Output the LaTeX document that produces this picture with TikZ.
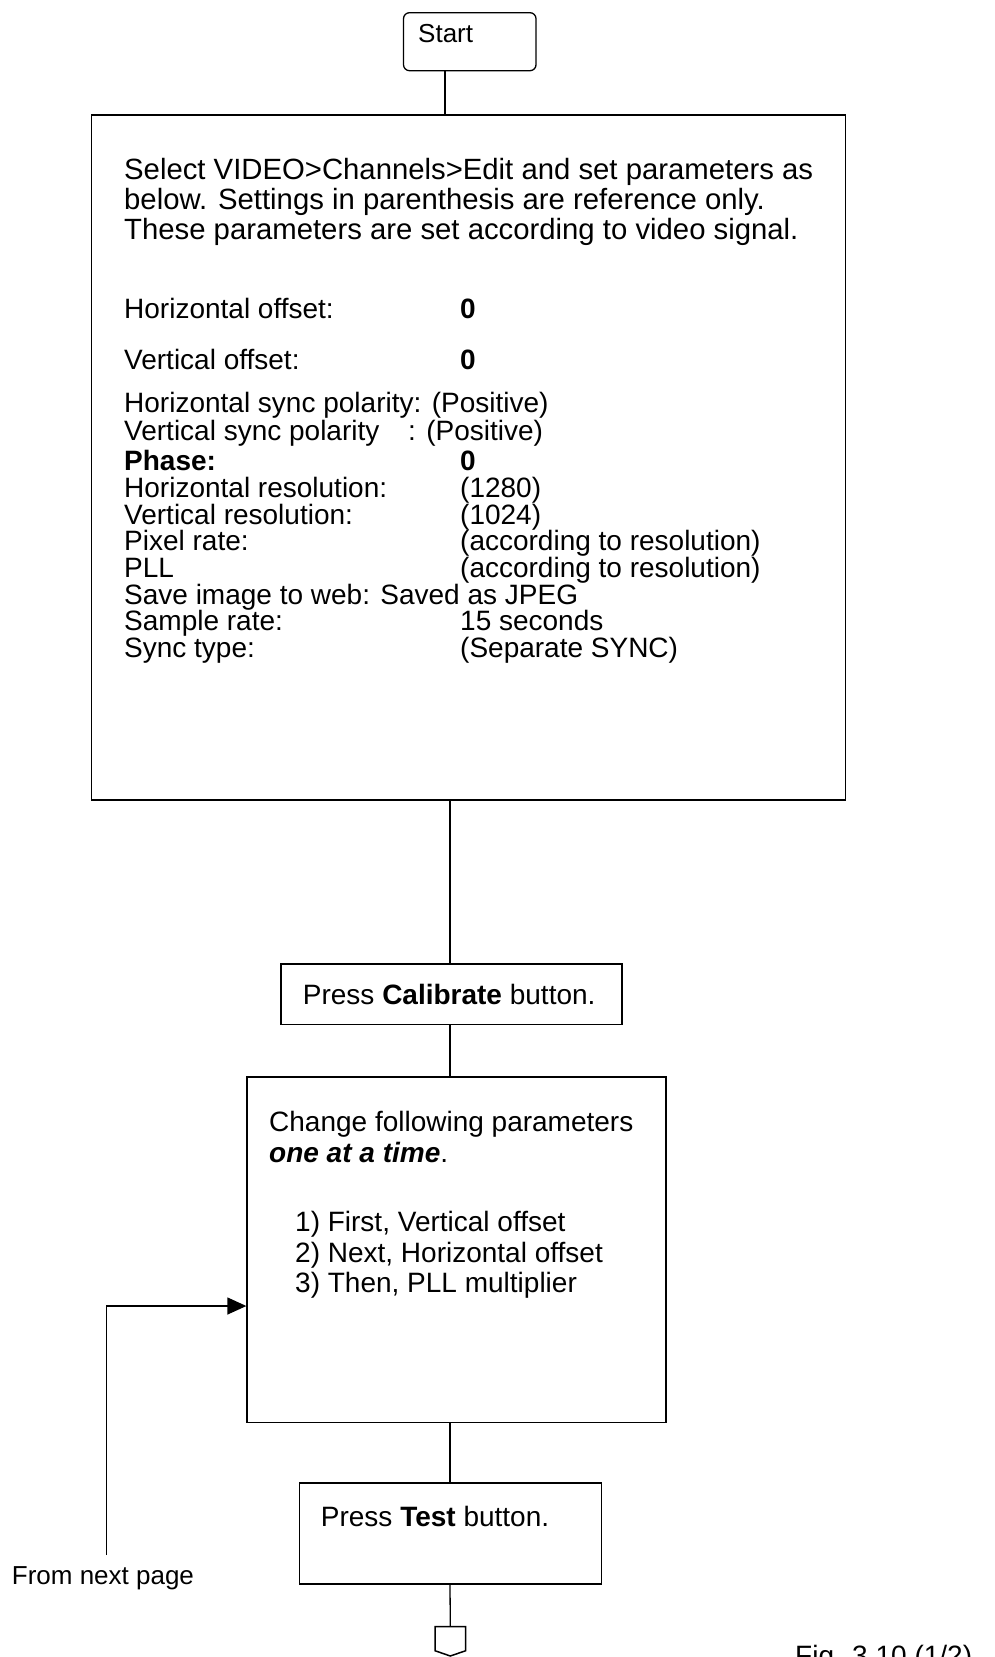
\documentclass[tikz,border=0pt]{standalone}
\usepackage{fontspec}
\setmainfont{Liberation Sans}
\usetikzlibrary{arrows.meta,calc}
\begin{document}
\begin{tikzpicture}[x=1pt,y=-1pt,
  box/.style={draw, line width=1.3pt, inner sep=0pt},
  txt/.style={anchor=base west, inner sep=0pt, font=\fontsize{28}{30}\selectfont},
  headtxt/.style={anchor=base west, inner sep=0pt, font=\fontsize{29.3}{31}\selectfont},
  smalltxt/.style={anchor=base west, inner sep=0pt, font=\fontsize{26}{28}\selectfont},
  conn/.style={line width=1.3pt}]
\useasboundingbox (0,0) rectangle (994,1657);

% Start
\node[box, rounded corners=6pt, minimum width=132.5pt, minimum height=58pt] (start) at (469.75,41.7) {};
\node[smalltxt] (starttxt) at (418,42) {Start};

% Settings box
\node[box, minimum width=754pt, minimum height=685pt] (setup) at (468.7,457.5) {};
\node[headtxt] (s1) at (124,179) {Select VIDEO>Channels>Edit and set parameters as};
\node[headtxt] (s2) at (124,209) {below. Settings in parenthesis are reference only.};
\node[headtxt] (s3) at (124,239) {These parameters are set according to video signal.};
\node[txt] (p1) at (124,318) {Horizontal offset:};
\node[txt] (v1) at (460,318) {\textbf{0}};
\node[txt] (p2) at (124,369) {Vertical offset:};
\node[txt] (v2) at (460,369) {\textbf{0}};
\node[txt] (p3) at (124,412) {Horizontal sync polarity: (Positive)};
\node[txt] (p4) at (124,440) {Vertical sync polarity};
\node[txt] (v4) at (408,440) {: (Positive)};
\node[txt] (p5) at (124,470) {\textbf{Phase:}};
\node[txt] (v5) at (460,470) {\textbf{0}};
\node[txt] (p6) at (124,497) {Horizontal resolution:};
\node[txt] (v6) at (460,497) {(1280)};
\node[txt] (p7) at (124,524) {Vertical resolution:};
\node[txt] (v7) at (460,524) {(1024)};
\node[txt] (p8) at (124,550.5) {Pixel rate:};
\node[txt] (v8) at (460,550.5) {(according to resolution)};
\node[txt] (p9) at (124,577) {PLL};
\node[txt] (v9) at (460,577) {(according to resolution)};
\node[txt] (p10) at (124,604) {Save image to web: Saved as JPEG};
\node[txt] (p11) at (124,630.5) {Sample rate:};
\node[txt] (v11) at (460,630.5) {15 seconds};
\node[txt] (p12) at (124,657) {Sync type:};
\node[txt] (v12) at (460,657) {(Separate SYNC)};

% Calibrate
\node[box, minimum width=341pt, minimum height=60.6pt] (calib) at (451.5,994.3) {};
\node[txt] (calibtxt) at (302.7,1004) {Press \textbf{Calibrate} button.};

% Change
\node[box, minimum width=419pt, minimum height=345.5pt] (change) at (456.5,1249.75) {};
\node[txt] (c1) at (269,1131) {Change following parameters};
\node[txt] (c2) at (269,1162) {\textbf{\textit{one at a time}}.};
\node[txt] (c3) at (295,1231) {1) First, Vertical offset};
\node[txt] (c4) at (295,1262) {2) Next, Horizontal offset};
\node[txt] (c5) at (295,1292) {3) Then, PLL multiplier};

% Test
\node[box, minimum width=302.4pt, minimum height=101pt] (test) at (450.5,1533.5) {};
\node[txt] (testtxt) at (320.7,1526) {Press \textbf{Test} button.};

% Off-page connector
\draw[line width=1.5pt] (435,1626.7) -- (465.7,1626.7) -- (465.7,1650.7) -- (450.3,1656) -- (435,1650.7) -- cycle;
\coordinate (offpage) at (450.3,1626.7);

% Connectors
\coordinate (lx1) at (445,0);
\coordinate (lx2) at (450,0);
\draw[conn] (start.south -| lx1) -- (setup.north -| lx1);
\draw[conn] (setup.south -| lx2) -- (calib.north -| lx2);
\draw[conn] (calib.south -| lx2) -- (change.north -| lx2);
\draw[conn] (change.south -| lx2) -- (test.north -| lx2);
\draw[conn] (test.south -| lx2) -- (offpage);

% From next page
\coordinate (fromnext) at (106.7,1555);
\coordinate (ay) at (0,1306);
\draw[conn, -{Triangle[length=19pt,width=17pt]}] (fromnext) |- (change.west |- ay);
\node[smalltxt] (fromtxt) at (11.7,1584) {From next page};

% Figure label
\node[txt] (fig) at (795,1665) {Fig. 3.10 (1/2)};
\end{tikzpicture}
\end{document}
